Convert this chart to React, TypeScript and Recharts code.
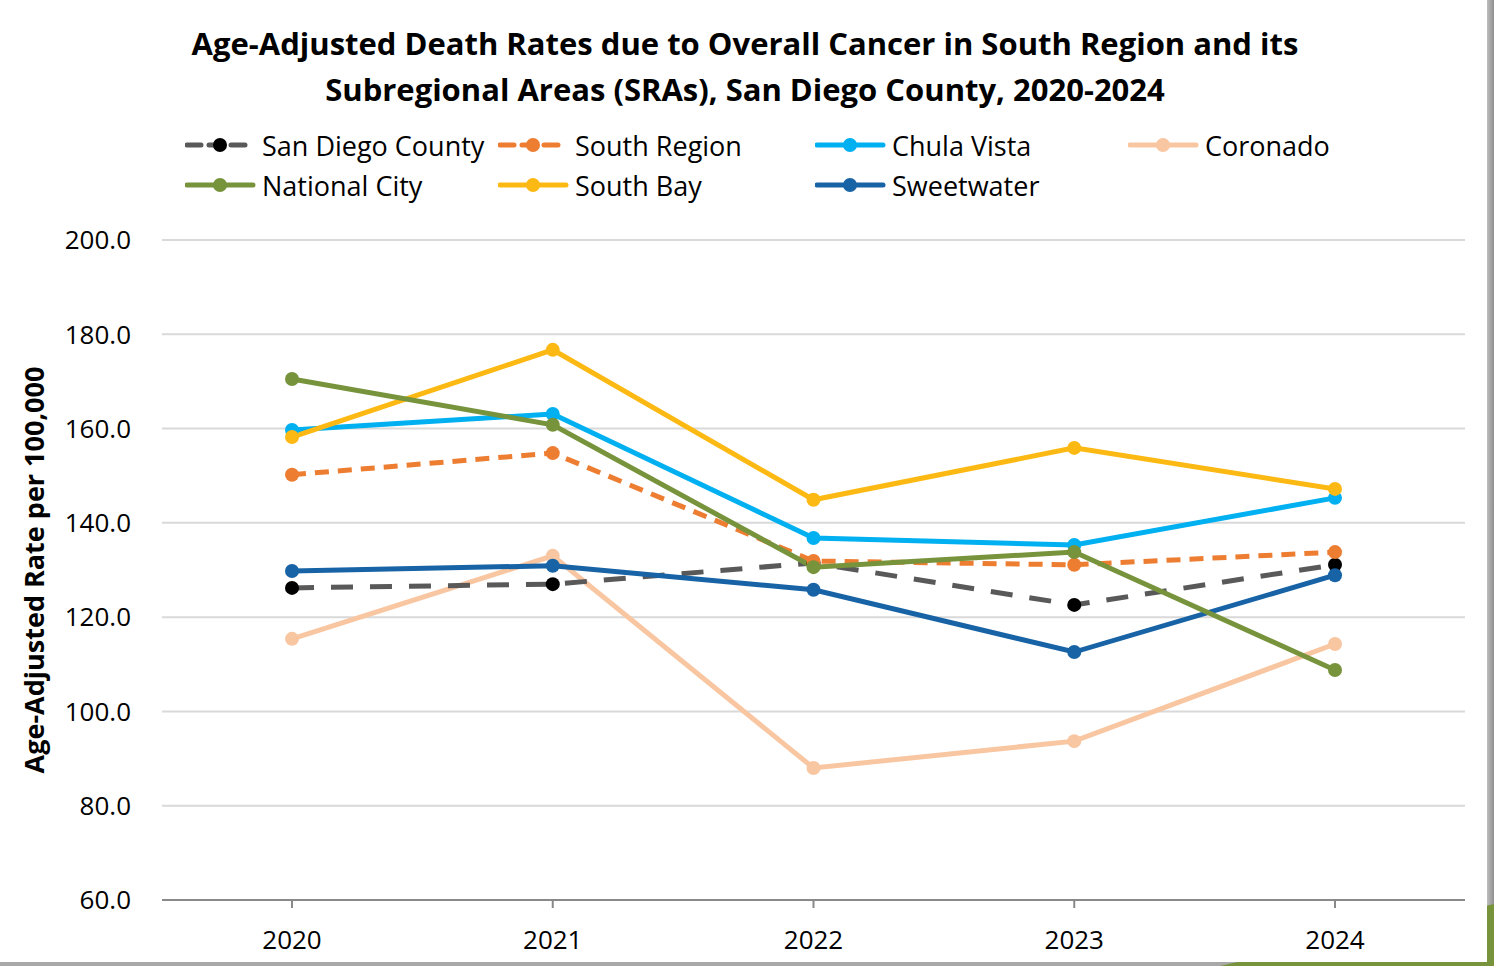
import { LineChart, Line, XAxis, YAxis, CartesianGrid } from "recharts";

const years = ["2020", "2021", "2022", "2023", "2024"];
const sanDiegoCounty = [126.2, 127.0, 131.5, 122.6, 131.1];
const southRegion = [150.2, 154.8, 131.9, 131.1, 133.8];
const chulaVista = [159.7, 163.1, 136.8, 135.3, 145.3];
const coronado = [115.4, 133.0, 88.0, 93.7, 114.3];
const nationalCity = [170.5, 160.8, 130.6, 133.8, 108.8];
const southBay = [158.2, 176.7, 144.9, 155.9, 147.2];
const sweetwater = [129.8, 130.9, 125.8, 112.6, 128.9];
const yTicks = [60, 80, 100, 120, 140, 160, 180, 200];

const data = years.map((year, i) => ({
  year,
  sdc: sanDiegoCounty[i],
  south: southRegion[i],
  chula: chulaVista[i],
  coronado: coronado[i],
  national: nationalCity[i],
  bay: southBay[i],
  sweet: sweetwater[i],
}));

// drawing order: first drawn sits below
const SERIES = [
  { key: "coronado", name: "Coronado", color: "#F9C6A2", dot: "#F9C6A2", dash: undefined },
  { key: "sdc", name: "San Diego County", color: "#595959", dot: "#000000", dash: "22 17" },
  { key: "south", name: "South Region", color: "#ED7D31", dot: "#ED7D31", dash: "14 9" },
  { key: "chula", name: "Chula Vista", color: "#00B0F0", dot: "#00B0F0", dash: undefined },
  { key: "bay", name: "South Bay", color: "#FDB913", dot: "#FDB913", dash: undefined },
  { key: "sweet", name: "Sweetwater", color: "#1763A6", dot: "#1763A6", dash: undefined },
  { key: "national", name: "National City", color: "#77933C", dot: "#77933C", dash: undefined },
];

const LEGEND = [
  { key: "sdc", x: 185, y: 145 },
  { key: "south", x: 498, y: 145 },
  { key: "chula", x: 815, y: 145 },
  { key: "coronado", x: 1128, y: 145 },
  { key: "national", x: 185, y: 185 },
  { key: "bay", x: 498, y: 185 },
  { key: "sweet", x: 815, y: 185 },
];

const FONT = "'Open Sans', 'Noto Sans', sans-serif";

function LegendItem({ k, x, y }: { k: string; x: number; y: number }) {
  const s = SERIES.find((d) => d.key === k)!;
  return (
    <div style={{ position: "absolute", left: x, top: y - 17, height: 34, display: "flex", alignItems: "center" }}>
      <svg width={72} height={20} style={{ marginRight: 5 }}>
        <line x1={2} y1={10} x2={68} y2={10} stroke={s.color} strokeWidth={5} strokeLinecap="round"
          strokeDasharray={s.dash ? "14 8" : undefined} />
        <circle cx={35} cy={10} r={7} fill={s.dot} />
      </svg>
      <span style={{ fontSize: 27, color: "#000", whiteSpace: "nowrap" }}>{s.name}</span>
    </div>
  );
}

export default function App() {
  return (
    <div style={{ position: "absolute", left: 0, top: 0, width: 1494, height: 966, background: "#fff", fontFamily: FONT, overflow: "hidden" }}>
      {/* backdrop: shadow and green corner behind the card */}
      <div style={{ position: "absolute", left: 1487, top: 0, width: 7, height: 966, background: "linear-gradient(to right, #bdbdbd, #8f8f8f)" }} />
      <div style={{ position: "absolute", left: 0, top: 962, width: 1494, height: 4, background: "#a8a8a8" }} />
      <div style={{ position: "absolute", left: 1220, top: 904, width: 274, height: 62, background: "#77933C", clipPath: "polygon(100% 0, 100% 100%, 0 100%)" }} />
      <div style={{ position: "absolute", left: 0, top: 0, width: 1487, height: 962, background: "#fff" }}>
        <div style={{ position: "absolute", left: 0, top: 20, width: 1490, textAlign: "center", fontWeight: 700, fontSize: 31, lineHeight: "46px", color: "#000", whiteSpace: "nowrap" }}>
          Age-Adjusted Death Rates due to Overall Cancer in South Region and its
          <br />
          Subregional Areas (SRAs), San Diego County, 2020-2024
        </div>
        {LEGEND.map((l) => (
          <LegendItem key={l.key} k={l.key} x={l.x} y={l.y} />
        ))}
        <div style={{ position: "absolute", left: 33, top: 570, transform: "translate(-50%, -50%) rotate(-90deg)", fontWeight: 700, fontSize: 27, whiteSpace: "nowrap", color: "#000" }}>
          Age-Adjusted Rate per 100,000
        </div>
        <LineChart width={1494} height={966} data={data} margin={{ top: 240, right: 29, bottom: 0, left: 0 }}>
          <CartesianGrid vertical={false} stroke="#D9D9D9" strokeWidth={2} />
          <XAxis dataKey="year" height={66} padding={{ left: 130, right: 130 }} stroke="#898989" strokeWidth={2}
            tickSize={8} tick={{ fill: "#000", fontSize: 26, fontFamily: FONT }} tickMargin={23} />
          <YAxis domain={[60, 200]} ticks={yTicks} axisLine={false} tickLine={false} width={162}
            tickMargin={25} tickFormatter={(v: number) => v.toFixed(1)}
            tick={{ fill: "#000", fontSize: 26, fontFamily: FONT }} />
          {SERIES.map((s) => (
            <Line key={s.key} dataKey={s.key} name={s.name} stroke={s.color} strokeWidth={5}
              strokeDasharray={s.dash} isAnimationActive={false}
              dot={{ r: 7, fill: s.dot, stroke: s.dot, strokeWidth: 0 }} activeDot={false} />
          ))}
        </LineChart>
      </div>
    </div>
  );
}
